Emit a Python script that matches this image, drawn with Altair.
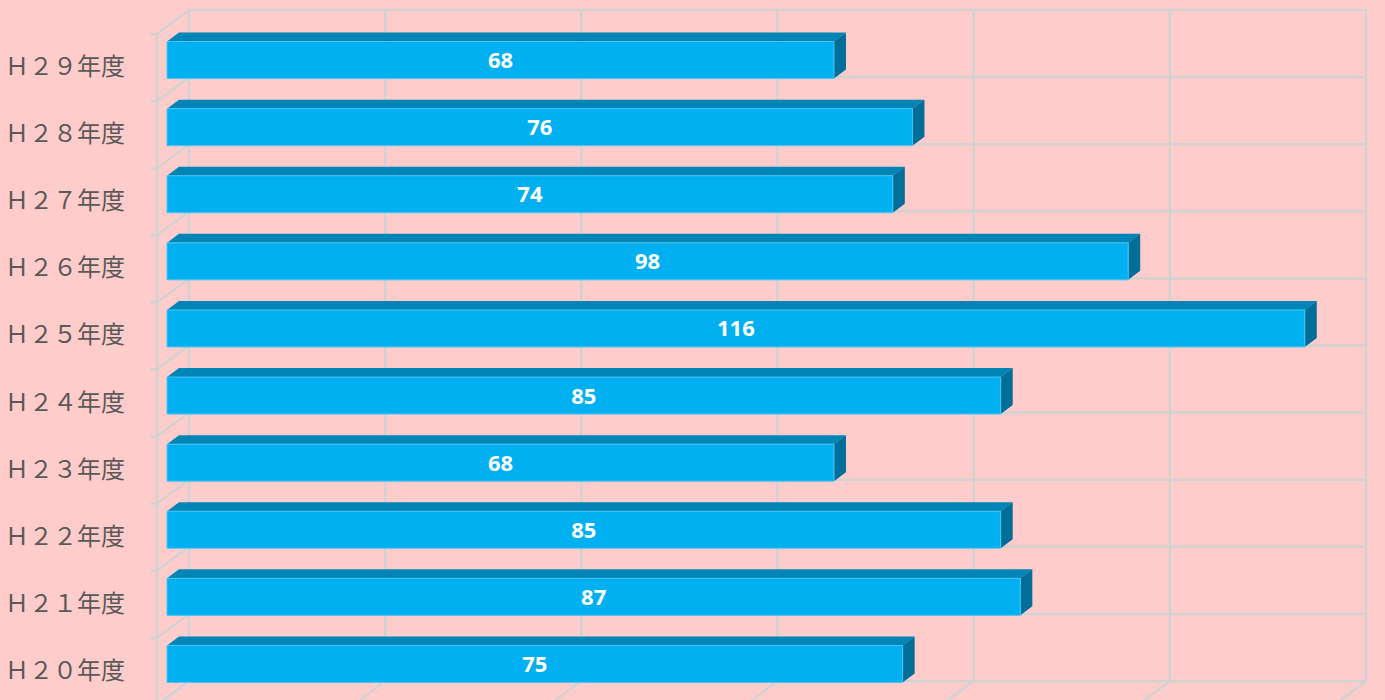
import altair as alt
import pandas as pd

# ---- data (bottom to top) ----
years = ["Ｈ２０年度", "Ｈ２１年度", "Ｈ２２年度", "Ｈ２３年度", "Ｈ２４年度",
         "Ｈ２５年度", "Ｈ２６年度", "Ｈ２７年度", "Ｈ２８年度", "Ｈ２９年度"]
counts = [75, 87, 85, 68, 85, 116, 98, 74, 76, 68]
x_ticks = [0, 20, 40, 60, 80, 100, 120]

# ---- geometry / style ----
W, H = 1177, 671
XMAX = 120
N = len(years)
PX_X = W / XMAX
PX_Y = H / N
PAD = 0.2243            # half of the gap between bars, in band units
DX = 12 / PX_X          # bar depth (x), in data units
DY = 9 / PX_Y           # bar depth (y), in data units

BG = "#FFCCCC"
GRID = "#D2D2D2"
FRONT = "#00B0F0"
TOP = "#0085B6"
SIDE = "#006E98"

bars = pd.DataFrame({
    "label": years,
    "value": counts,
    "idx": list(range(N)),
})
bars["y0"] = bars["idx"] + PAD
bars["y1"] = bars["idx"] + 1 - PAD
bars["ym"] = bars["idx"] + 0.5
bars["half"] = bars["value"] / 2

top_rows, side_rows = [], []
for i, v in enumerate(counts):
    y1 = i + 1 - PAD
    y0 = i + PAD
    top_rows.append({"k": i, "y": y1, "x": 0, "x2": v})
    top_rows.append({"k": i, "y": y1 + DY, "x": DX, "x2": v + DX})
    side_rows.append({"k": i, "x": v, "y": y0, "y2": y1})
    side_rows.append({"k": i, "x": v + DX, "y": y0 + DY, "y2": y1 + DY})
top_df = pd.DataFrame(top_rows)
side_df = pd.DataFrame(side_rows)

xt = pd.DataFrame({"v": x_ticks})
yt = pd.DataFrame({"r": list(range(N + 1))})

xs = alt.Scale(domain=[0, XMAX], nice=False, zero=False)
ys = alt.Scale(domain=[0, N], nice=False, zero=False)

BX, BY = 22, -16.5   # back wall offset (px)
FX, FY = -10, 7.5    # front plane offset (px)
SW = 2.5

back_v = alt.Chart(xt).mark_rule(color=GRID, strokeWidth=SW, xOffset=BX, x2Offset=BX,
                                 yOffset=BY, y2Offset=BY).encode(
    x=alt.X("v:Q", scale=xs, axis=None), x2="v:Q",
    y=alt.datum(0, scale=ys, axis=None), y2=alt.datum(N))

back_h = alt.Chart(yt).mark_rule(color=GRID, strokeWidth=SW, xOffset=BX, x2Offset=BX,
                                 yOffset=BY, y2Offset=BY).encode(
    y=alt.Y("r:Q", scale=ys, axis=None), y2="r:Q",
    x=alt.datum(0, scale=xs, axis=None), x2=alt.datum(XMAX))

side_wall = alt.Chart(yt).mark_rule(color=GRID, strokeWidth=SW, xOffset=FX, x2Offset=BX,
                                    yOffset=FY, y2Offset=BY).encode(
    y=alt.Y("r:Q", scale=ys, axis=None), y2="r:Q",
    x=alt.datum(0, scale=xs, axis=None), x2=alt.datum(0))

floor = alt.Chart(xt).mark_rule(color=GRID, strokeWidth=SW, xOffset=BX, x2Offset=FX,
                                yOffset=BY, y2Offset=FY).encode(
    x=alt.X("v:Q", scale=xs, axis=None), x2="v:Q",
    y=alt.datum(0, scale=ys, axis=None), y2=alt.datum(0))

front_axis = alt.Chart(xt).transform_filter("datum.v == 0").mark_rule(
    color=GRID, strokeWidth=SW, xOffset=FX, x2Offset=FX, yOffset=FY, y2Offset=FY).encode(
    x=alt.X("v:Q", scale=xs, axis=None), x2="v:Q",
    y=alt.datum(0, scale=ys, axis=None), y2=alt.datum(N))

ticks = alt.Chart(yt).mark_rule(color=GRID, strokeWidth=SW, xOffset=FX - 7, x2Offset=FX,
                                yOffset=FY, y2Offset=FY).encode(
    y=alt.Y("r:Q", scale=ys, axis=None), y2="r:Q",
    x=alt.datum(0, scale=xs, axis=None), x2=alt.datum(0))

top_face = alt.Chart(top_df).mark_area(color=TOP, orient="horizontal").encode(
    y=alt.Y("y:Q", scale=ys, axis=None),
    x=alt.X("x:Q", scale=xs, axis=None), x2="x2:Q",
    detail="k:N")

side_face = alt.Chart(side_df).mark_area(color=SIDE, orient="vertical").encode(
    x=alt.X("x:Q", scale=xs, axis=None),
    y=alt.Y("y:Q", scale=ys, axis=None), y2="y2:Q",
    detail="k:N")

front_face = alt.Chart(bars).mark_rect(color=FRONT, stroke="#4CC4F2", strokeWidth=1).encode(
    x=alt.X("value:Q", scale=xs, axis=None), x2=alt.datum(0),
    y=alt.Y("y0:Q", scale=ys, axis=None), y2="y1:Q")

values = alt.Chart(bars).mark_text(color="white", font="Noto Sans", fontWeight="bold",
                                   fontSize=22, baseline="middle", align="center", dy=1).encode(
    x=alt.X("half:Q", scale=xs, axis=None),
    y=alt.Y("ym:Q", scale=ys, axis=None),
    text="value:Q")

cat_labels = alt.Chart(bars).mark_text(color="#595959", font="Noto Sans CJK JP",
                                       fontSize=24, baseline="middle", align="right", dy=8).encode(
    x=alt.value(-42),
    y=alt.Y("ym:Q", scale=ys, axis=None),
    text="label:N")

chart = alt.layer(
    back_v, back_h, side_wall, floor, front_axis, ticks,
    top_face, side_face, front_face, values, cat_labels
).properties(
    width=W, height=H,
    background=BG,
    padding={"left": 167, "top": 26.5, "right": 41, "bottom": 2.5},
    autosize=alt.AutoSizeParams(type="none"),
).configure_view(stroke=None)

chart.save("out.html", embed_options={"renderer": "svg", "actions": False})
